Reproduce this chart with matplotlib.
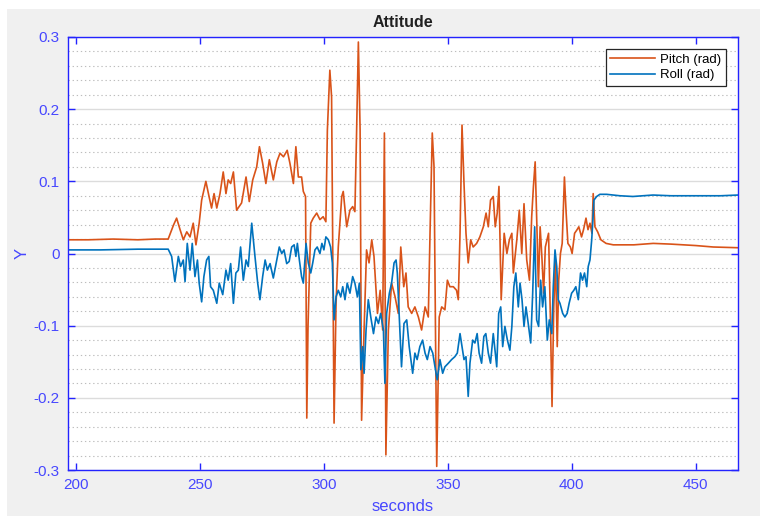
import numpy as np
import matplotlib
matplotlib.use("Agg")
import matplotlib.pyplot as plt
from matplotlib.patches import Rectangle
from matplotlib.ticker import MultipleLocator

# values
pitch_t = [196.8, 205, 215, 225, 232, 237.2, 239.3, 240.6, 242.0, 243.3, 244.7, 246.0, 247.3, 248.4,
           249.7, 250.7, 252.4, 253.8, 254.7, 255.7, 256.8, 258.1, 259.4, 260.5, 261.4, 262.4, 263.5,
           264.8, 266.8, 268.6, 269.9, 271.3, 272.9, 274.0, 275.3, 276.6, 278.0, 279.6, 281.0, 282.3,
           283.7, 285.2, 286.3, 287.7, 288.7, 289.7, 291.0, 291.7, 292.6, 293.1, 293.6, 294.7, 295.7,
           297.1, 298.4, 299.7, 300.8, 301.4, 302.4, 303.1, 304.1, 304.9, 305.8, 307.2, 307.8, 309.2,
           310.5, 311.6, 312.5, 313.2, 313.9, 314.6, 315.2, 316.2, 317.2, 318.2, 319.3, 320.2, 321.6,
           322.7, 323.7, 324.4, 325.0, 326.0, 327.3, 328.7, 330.0, 331.0, 332.2, 333.1, 334.0, 335.4,
           336.7, 338.1, 339.4, 340.8, 342.1, 342.8, 343.7, 344.4, 345.5, 346.5, 347.5, 348.8, 349.8,
           350.8, 352.2, 353.5, 354.2, 354.9, 355.7, 356.5, 357.3, 358.2, 359.2, 360.2, 361.6, 362.9,
           364.3, 365.4, 366.3, 367.2, 368.3, 369.1, 369.9, 370.6, 371.5, 372.7, 373.8, 374.8, 375.8,
           376.4, 377.8, 378.8, 379.8, 380.7, 381.8, 382.9, 383.8, 384.5, 385.2, 385.9, 386.5, 387.2,
           387.9, 388.6, 389.3, 390.6, 391.3, 392.0, 392.7, 393.4, 394.1, 394.7, 395.4, 396.1, 397.0,
           397.7, 398.4, 399.4, 400.1, 401.1, 402.1, 402.8, 403.9, 404.7, 405.7, 406.5, 407.3, 408.1,
           408.6, 409.3, 410.4, 411.7, 413.8, 416.7, 425, 432.8, 440, 450, 457, 467]
pitch = [0.019, 0.019, 0.020, 0.019, 0.020, 0.020, 0.039, 0.049, 0.033, 0.019, 0.030, 0.023, 0.042, 0.012,
         0.042, 0.074, 0.100, 0.077, 0.063, 0.083, 0.063, 0.083, 0.113, 0.083, 0.102, 0.097, 0.113,
         0.060, 0.070, 0.106, 0.072, 0.102, 0.120, 0.148, 0.125, 0.097, 0.130, 0.102, 0.127, 0.139,
         0.134, 0.143, 0.125, 0.097, 0.148, 0.106, 0.106, 0.086, 0.079, -0.228, -0.100, 0.042, 0.049,
         0.056, 0.047, 0.051, 0.044, 0.171, 0.254, 0.217, -0.235, -0.069, 0.009, 0.079, 0.086, 0.037,
         0.060, 0.065, 0.058, 0.171, 0.293, 0.171, -0.231, -0.106, 0.005, -0.013, 0.019, -0.004, -0.083,
         -0.051, -0.106, 0.167, -0.279, -0.106, -0.041, -0.060, -0.083, 0.009, -0.046, -0.027, -0.074, -0.083,
         -0.074, -0.088, -0.106, -0.074, -0.088, 0.028, 0.167, 0.121, -0.295, -0.088, -0.074, -0.078, -0.037,
         -0.046, -0.046, -0.051, -0.064, 0.028, 0.178, 0.097, 0.028, -0.013, 0.019, 0.009, 0.014, 0.023,
         0.037, 0.056, 0.037, 0.074, 0.079, 0.037, 0.056, 0.093, -0.064, 0.028, 0.000, 0.019, 0.028,
         -0.027, 0.019, 0.060, 0.000, 0.069, -0.009, -0.037, 0.051, 0.093, 0.127, 0.037, -0.046, 0.037,
         -0.004, -0.055, 0.009, 0.028, -0.083, -0.212, -0.074, -0.009, -0.129, -0.037, 0.000, 0.014, 0.106,
         0.056, 0.014, 0.009, 0.000, 0.028, 0.033, 0.037, 0.023, 0.033, 0.049, 0.033, 0.042, 0.028,
         0.083, 0.037, 0.030, 0.019, 0.014, 0.012, 0.012, 0.014, 0.013, 0.011, 0.009, 0.008]

roll_t = [196.8, 210, 225, 237.2, 238.6, 239.9, 241.3, 242.2, 243.3, 244.0, 244.9, 246.0, 246.9, 248.0,
          249.0, 249.7, 250.7, 251.6, 252.7, 253.6, 254.3, 255.4, 256.8, 257.8, 259.2, 260.5, 261.4,
          262.4, 263.5, 264.5, 265.5, 266.4, 267.5, 268.6, 269.5, 270.9, 272.2, 273.3, 274.2, 275.3,
          276.3, 277.2, 278.3, 279.6, 281.0, 282.0, 283.0, 283.9, 285.0, 286.0, 287.0, 288.0, 288.7,
          289.3, 290.1, 291.0, 291.7, 292.8, 293.7, 294.7, 295.5, 296.4, 297.3, 298.4, 299.2, 300.0,
          300.8, 301.8, 302.7, 303.4, 304.1, 304.9, 305.8, 306.8, 307.6, 308.5, 309.4, 310.5, 311.6,
          312.5, 313.5, 314.3, 314.9, 315.7, 316.2, 317.0, 317.9, 318.9, 320.0, 321.0, 322.0, 322.9,
          324.0, 324.6, 325.3, 326.4, 327.3, 328.3, 329.1, 329.6, 330.4, 331.3, 332.3, 333.4, 334.4,
          335.8, 336.7, 337.6, 338.7, 339.8, 340.8, 341.7, 342.8, 343.9, 344.8, 345.7, 346.8, 347.9,
          348.8, 350.2, 351.5, 352.8, 353.8, 354.9, 355.7, 356.5, 357.3, 358.2, 358.9, 360.0, 360.9,
          361.8, 362.6, 363.6, 364.5, 365.3, 366.3, 367.2, 368.3, 369.0, 369.7, 370.5, 371.3, 372.1,
          373.0, 374.0, 375.0, 375.8, 376.6, 377.4, 378.4, 379.1, 379.9, 380.7, 381.5, 382.4, 383.4,
          384.2, 385.0, 385.8, 386.6, 387.4, 388.2, 389.1, 390.1, 390.9, 391.9, 392.5, 393.2, 393.9,
          394.5, 395.2, 396.3, 397.2, 398.1, 398.9, 399.9, 400.8, 401.6, 402.6, 403.5, 404.3, 405.1,
          406.0, 406.6, 407.3, 408.0, 408.4, 408.9, 410.0, 411.3, 414.0, 419.4, 424.6, 432.7, 440,
          451.6, 460, 467]
roll = [0.005, 0.005, 0.006, 0.006, -0.004, -0.039, -0.004, -0.018, -0.009, -0.039, 0.014, -0.023, 0.014, -0.032,
        -0.009, -0.041, -0.067, -0.032, -0.009, -0.004, -0.046, -0.051, -0.069, -0.041, -0.057, -0.023, -0.037,
        -0.014, -0.069, -0.027, -0.023, 0.009, -0.037, -0.009, -0.018, 0.042, -0.004, -0.041, -0.064, -0.032,
        -0.009, -0.023, -0.014, -0.034, -0.009, 0.009, 0.000, 0.005, -0.014, -0.011, 0.009, 0.012, -0.004,
        0.014, -0.009, -0.032, -0.041, 0.014, -0.013, -0.027, -0.013, 0.005, 0.009, 0.000, 0.014, 0.005,
        0.023, 0.019, 0.009, -0.013, -0.092, -0.060, -0.051, -0.060, -0.046, -0.064, -0.041, -0.055, -0.032,
        -0.041, -0.060, -0.041, -0.161, -0.129, -0.166, -0.106, -0.064, -0.088, -0.111, -0.088, -0.097, -0.083,
        -0.106, -0.180, -0.083, -0.055, -0.041, -0.013, -0.009, -0.027, -0.088, -0.157, -0.097, -0.092, -0.129,
        -0.166, -0.138, -0.147, -0.129, -0.120, -0.138, -0.147, -0.129, -0.138, -0.157, -0.175, -0.147, -0.166,
        -0.157, -0.152, -0.147, -0.143, -0.138, -0.111, -0.129, -0.147, -0.143, -0.198, -0.152, -0.120, -0.124,
        -0.111, -0.138, -0.152, -0.115, -0.111, -0.138, -0.152, -0.111, -0.134, -0.157, -0.083, -0.074, -0.129,
        -0.101, -0.120, -0.134, -0.101, -0.046, -0.027, -0.074, -0.041, -0.064, -0.101, -0.074, -0.097, -0.124,
        -0.055, 0.037, -0.092, -0.101, -0.037, -0.074, -0.046, -0.120, -0.092, -0.111, -0.046, 0.005, -0.018,
        -0.064, -0.069, -0.083, -0.088, -0.083, -0.069, -0.055, -0.051, -0.046, -0.064, -0.027, -0.037, -0.027,
        -0.046, -0.018, -0.009, 0.019, 0.042, 0.074, 0.079, 0.082, 0.082, 0.080, 0.079, 0.081, 0.080,
        0.080, 0.080, 0.081]

x_ticks = [200, 250, 300, 350, 400, 450]
y_ticks = [-0.3, -0.2, -0.1, 0, 0.1, 0.2, 0.3]
y_labels = ["-0.3", "-0.2", "-0.1", "0", "0.1", "0.2", "0.3"]

plt.rcParams["font.family"] = ["Liberation Sans", "DejaVu Sans"]

fig = plt.figure(figsize=(7.6, 5.16), dpi=100)
fig.patch.set_facecolor("white")
# grey window area of the screenshot, behind the axes
fig.patches.append(Rectangle((7 / 760, 0), 1, 507 / 516, transform=fig.transFigure,
                             facecolor="#f0f0f0", edgecolor="none", zorder=-10))

ax = fig.add_axes([68 / 760, 46 / 516, 670 / 760, 433 / 516])
ax.set_zorder(1)
ax.set_facecolor("white")

ax.plot(pitch_t, pitch, color="#d95319", lw=1.2, label="Pitch (rad)")
ax.plot(roll_t, roll, color="#0072bd", lw=1.2, label="Roll (rad)")

ax.set_xlim(196.8, 467)
ax.set_ylim(-0.3, 0.3)
ax.set_xticks(x_ticks)
ax.set_yticks(y_ticks)
ax.set_yticklabels(y_labels)
ax.yaxis.set_minor_locator(MultipleLocator(0.02))

axis_blue = "#2323ff"
label_blue = "#4747ff"
for s in ax.spines.values():
    s.set_color(axis_blue)
    s.set_linewidth(1.0)
ax.tick_params(which="major", direction="in", length=5, width=1, color=axis_blue,
               labelcolor=label_blue, labelsize=11, top=True, right=True, pad=6)
ax.tick_params(which="minor", length=0)

ax.grid(True, axis="y", which="major", color="#dcdcdc", lw=1.0, ls="-")
ax.grid(True, axis="y", which="minor", color="#bdbdbd", lw=0.8, ls=(0, (1.2, 2.5)))
ax.set_axisbelow(True)

ax.set_title("Attitude", fontsize=11.5, fontweight="bold", color="#202020", pad=7)
ax.set_xlabel("seconds", fontsize=12, color=label_blue, labelpad=5)
ax.set_ylabel("Y", fontsize=12, color=label_blue, labelpad=3)

leg = ax.legend(loc="upper right", fontsize=9.5, fancybox=False, framealpha=1,
                edgecolor="#262626", handlelength=3.4, borderaxespad=0.9,
                borderpad=0.35, labelspacing=0.25, handletextpad=0.4)
leg.get_frame().set_linewidth(0.9)

fig.savefig("out.png", dpi=100, facecolor=fig.get_facecolor())
